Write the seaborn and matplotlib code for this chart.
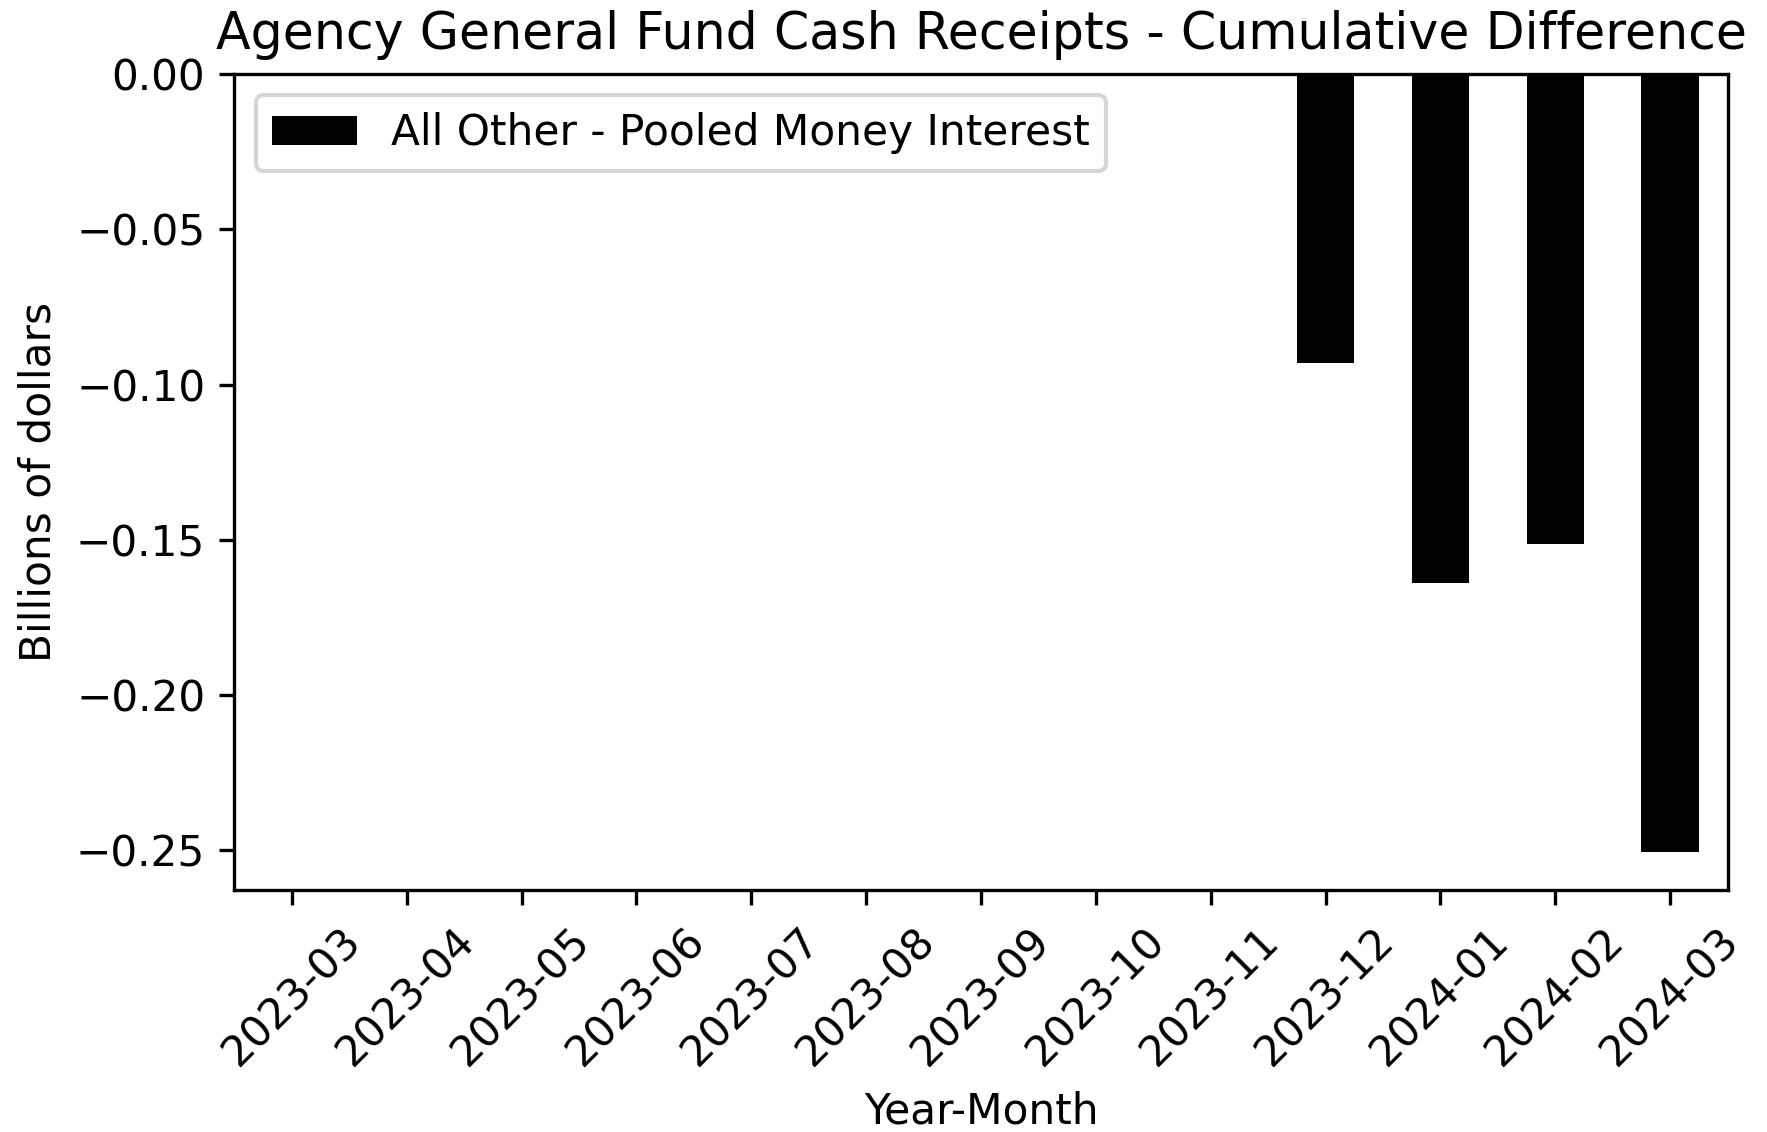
import pandas as pd
import matplotlib
matplotlib.use("Agg")
import matplotlib.pyplot as plt
import seaborn as sns

months = ['2023-03', '2023-04', '2023-05', '2023-06', '2023-07', '2023-08',
          '2023-09', '2023-10', '2023-11', '2023-12', '2024-01', '2024-02', '2024-03']
values = [0, 0, 0, 0, 0, 0, 0, 0, 0, -0.093, -0.164, -0.1515, -0.2505]
series_name = 'All Other - Pooled Money Interest'

df = pd.DataFrame({'Year-Month': months, 'value': values})

plt.rcParams['font.size'] = 10.13

fig = plt.figure(figsize=(1767 / 300, 1132 / 300), dpi=300)
ax = fig.add_axes([0.1327, 0.2135, 0.9777 - 0.1327, 0.9343 - 0.2135])
sns.barplot(data=df, x='Year-Month', y='value', color='black', width=0.5,
            saturation=1, label=series_name, ax=ax)
ax.set_xlim(-0.5, len(months) - 0.5)
ax.set_ylim(-0.263, 0)
ax.set_title('Agency General Fund Cash Receipts - Cumulative Difference')
ax.set_xlabel('Year-Month')
ax.set_ylabel('Billions of dollars')
ax.tick_params(axis='x', labelrotation=45)
ax.legend(loc='upper left')
fig.savefig('out.png', dpi=300)
